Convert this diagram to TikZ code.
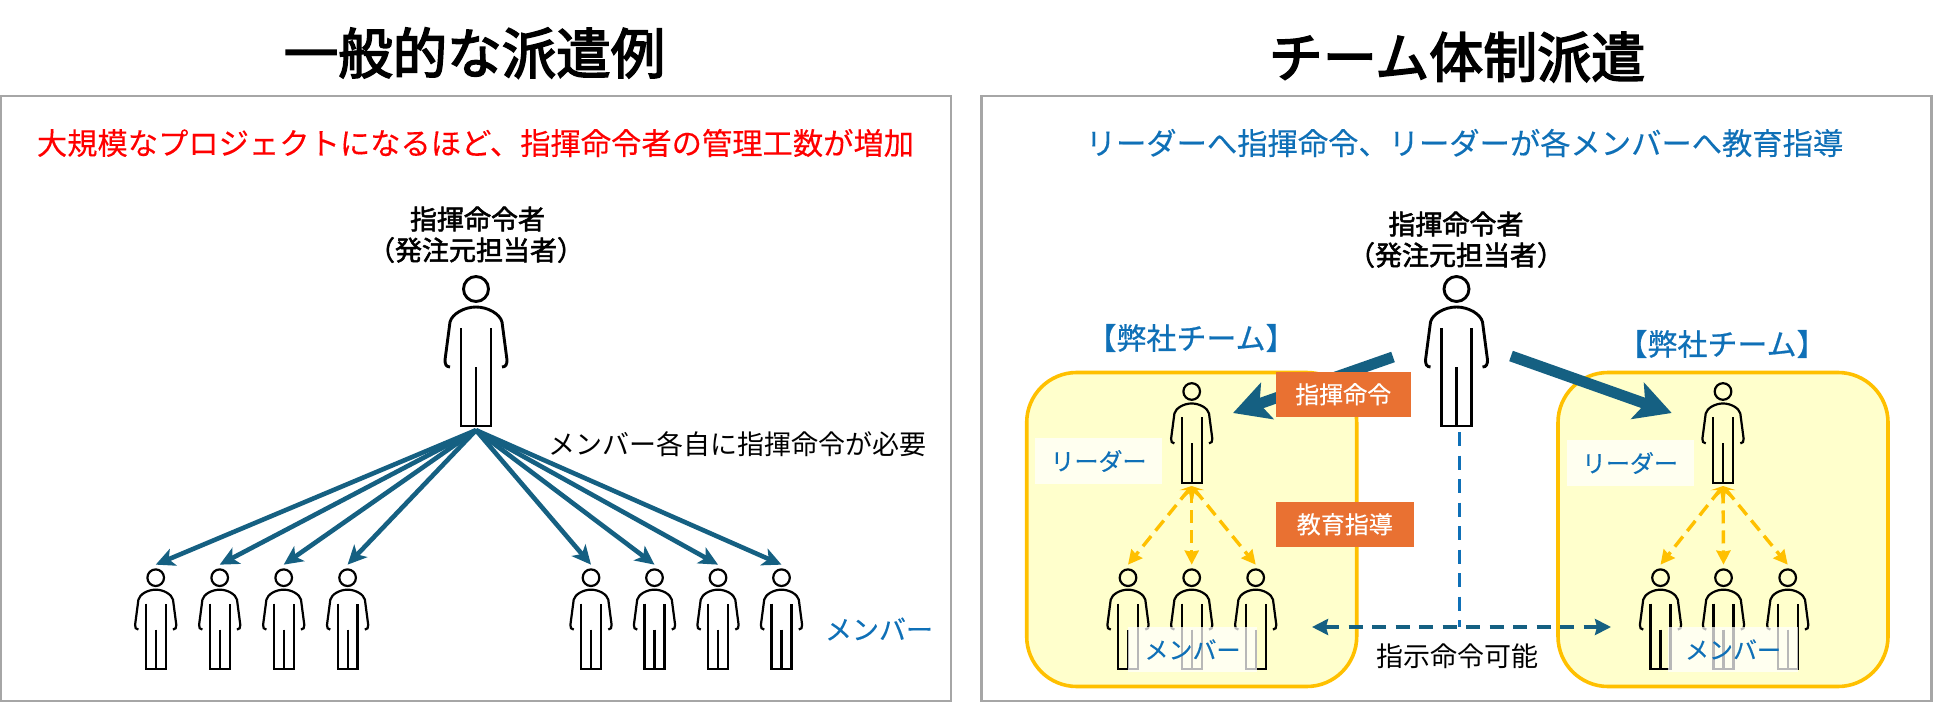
\documentclass[tikz,border=0pt]{standalone}
\usepackage{fontspec}
\setmainfont{Noto Sans CJK JP}
\newfontfamily\titlefont[FakeBold=3]{Noto Sans CJK JP}
\newfontfamily\whofont[FakeBold=2]{Noto Sans CJK JP}
\newfontfamily\medfont[FakeBold=0.7]{Noto Sans CJK JP}
\newfontfamily\lightbold[FakeBold=0.2]{Noto Sans CJK JP}
\usetikzlibrary{arrows.meta}
\definecolor{teal}{HTML}{156082}
\definecolor{bluetxt}{HTML}{0F70B7}
\definecolor{gold}{HTML}{FFC000}
\definecolor{paleyel}{HTML}{FFFFCC}
\definecolor{orangebox}{HTML}{E97132}
\definecolor{panelgray}{HTML}{A6A6A6}
\newcommand{\fs}[1]{\fontsize{#1}{#1}\selectfont}
\tikzset{
  person/.pic={
    \draw[line join=miter] (-26,78) .. controls (-30,78) and (-31,75) .. (-31,71) -- (-26,33)
      .. controls (-24,25) and (-12,18) .. (0,18) .. controls (12,18) and (24,25) .. (26,33)
      -- (31,71) .. controls (31,75) and (30,78) .. (26,78);
    \draw (-15,39) -- (-15,137) -- (15,137) -- (15,39);
    \draw (0,78) -- (0,137);
    \draw (0,0) circle[radius=12.5];
  },
  bigperson/.style={line width=2.9pt},
  smallperson/.style={scale=0.665,line width=2.2pt},
  bigbox/.style={inner sep=0pt,minimum width=64pt,minimum height=155pt},
  smallbox/.style={inner sep=0pt,minimum width=44pt,minimum height=103.7pt},
  panel/.style={draw=panelgray,line width=2.6pt,fill=white,inner sep=0pt},
  team/.style={draw=gold,line width=3.6pt,fill=paleyel,rounded corners=50pt,inner sep=0pt,minimum width=330pt,minimum height=314pt},
  fan/.style={draw=teal,line width=4.6pt,-{Stealth[length=19pt,width=18pt,inset=5pt]}},
  bigarrow/.style={draw=teal,line width=11pt,-{Stealth[length=36pt,width=38pt,inset=8pt]}},
  teach/.style={draw=gold,line width=3.4pt,dash pattern=on 13pt off 7pt,{Stealth[length=11pt,width=14pt,inset=6pt]}-{Stealth[length=14pt,width=14pt,inset=1pt]}},
  veil/.style={fill=white,fill opacity=0.72,text opacity=1,inner sep=0pt,text=bluetxt},
  tag/.style={fill=orangebox,text=white,inner sep=0pt,font=\lightbold\fs{24}},
  title/.style={inner sep=0pt},
  head/.style={font=\lightbold\fs{30.3},inner sep=0pt},
  plain/.style={font=\fs{27},inner sep=0pt},
  who/.style={font=\whofont\fs{27},inner sep=0pt,align=center},
  teamname/.style={font=\medfont\fs{30},text=bluetxt,inner sep=0pt},
}
\newcommand{\bigguy}[3]{%
  \node[bigbox] (#1) at (#2,#3+63.5) {};
  \pic[bigperson] at (#2,#3) {person};}
\newcommand{\smallguy}[3]{%
  \node[smallbox] (#1) at (#2,#3+39) {};
  \pic[smallperson] at (#2,#3) {person};}
\begin{document}
\begin{tikzpicture}[x=1pt,y=-1pt]
\useasboundingbox (0,0) rectangle (1950,703);
\fill[white] (0,0) rectangle (1950,703);
% panels
\node[panel,minimum width=950pt,minimum height=605pt] (panelL) at (476,398.5) {};
\node[panel,minimum width=950pt,minimum height=605pt] (panelR) at (1456.5,398.5) {};
% titles
\node[title,font=\titlefont\fs{54.5}] (titleL) at (474.5,53) {一般的な派遣例};
\node[title,font=\titlefont\fs{54}] (titleR) at (1457,57) {チーム体制派遣};
\node[head,text=red] (headL) at (475.5,143) {大規模なプロジェクトになるほど、指揮命令者の管理工数が増加};
\node[head,text=bluetxt] (headR) at (1464.5,143) {リーダーへ指揮命令、リーダーが各メンバーへ教育指導};
% left panel
\node[who] (whoL1) at (477.5,219) {指揮命令者};
\node[who] (whoL2) at (476,250) {（発注元担当者）};
\bigguy{bossL}{476}{289}
\foreach \n/\x in {1/155.7,2/219.7,3/283.7,4/347.6,5/591,6/654.5,7/718,8/781.5}{
  \smallguy{m\n}{\x}{577.7}
  \draw[fan] (bossL.south) -- (m\n.north);
}
\node[plain] (needL) at (737.5,444) {メンバー各自に指揮命令が必要};
\node[plain,font=\lightbold\fs{27},text=bluetxt] (memL) at (879,629) {メンバー};
% right panel teams
\node[team] (teamA) at (1191.7,529.5) {};
\node[team] (teamB) at (1723,529.5) {};
\node[teamname] (teamAt) at (1191,338) {【弊社チーム】};
\node[teamname] (teamBt) at (1722,344) {【弊社チーム】};
\node[who] (whoR1) at (1456,224) {指揮命令者};
\node[who] (whoR2) at (1456,255) {（発注元担当者）};
\bigguy{bossR}{1456.5}{289}
\smallguy{leadA}{1191.7}{391.5}
\smallguy{a1}{1128}{577.7}
\smallguy{a2}{1191.7}{577.7}
\smallguy{a3}{1255.7}{577.7}
\smallguy{leadB}{1723}{391.5}
\smallguy{b1}{1660.5}{577.7}
\smallguy{b2}{1723.5}{577.7}
\smallguy{b3}{1787.7}{577.7}
% big arrows
\coordinate (fromA) at (1393,357);
\coordinate (toA) at (1233,413);
\coordinate (fromB) at (1511,356);
\coordinate (toB) at (1671.7,413);
\draw[bigarrow] (fromA) -- (toA);
\draw[bigarrow] (fromB) -- (toB);
% teaching arrows
\coordinate (apexA) at (1191.7,486);
\coordinate (apexB) at (1723,486);
\foreach \t in {a1,a2,a3}{\draw[teach] (apexA) -- (\t.north);}
\foreach \t in {b1,b2,b3}{\draw[teach] (apexB) -- (\t.north);}
% dashed links
\coordinate (junction) at (1459,627);
\coordinate (endA) at (1312,627);
\coordinate (endB) at (1611,627);
\coordinate (dropTop) at (1459,432);
\draw[bluetxt,line width=3pt,dash pattern=on 14pt off 9.5pt] (dropTop) -- (junction);
\draw[teal,line width=3.4pt,dash pattern=on 14pt off 9.5pt,{Stealth[length=16pt,width=16pt,inset=2pt]}-{Stealth[length=16pt,width=16pt,inset=2pt]}] (endA) -- (endB);
\node[plain] (canDo) at (1457.5,656) {指示命令可能};
% labels
\node[veil,minimum width=127pt,minimum height=46pt,font=\lightbold\fs{24}] (leadAl) at (1098.5,461) {リーダー};
\node[veil,minimum width=127pt,minimum height=46pt,font=\lightbold\fs{24}] (leadBl) at (1630,463) {リーダー};
\node[veil,minimum width=129pt,minimum height=45pt,font=\lightbold\fs{24}] (memAl) at (1192.5,649.5) {メンバー};
\node[veil,minimum width=130pt,minimum height=45pt,font=\lightbold\fs{24}] (memBl) at (1733,649.5) {メンバー};
\node[tag,minimum width=135pt,minimum height=44.7pt] (tagCmd) at (1343.2,394.3) {指揮命令};
\node[tag,minimum width=137.7pt,minimum height=44.7pt] (tagEdu) at (1344.8,524.3) {教育指導};
\end{tikzpicture}
\end{document}
